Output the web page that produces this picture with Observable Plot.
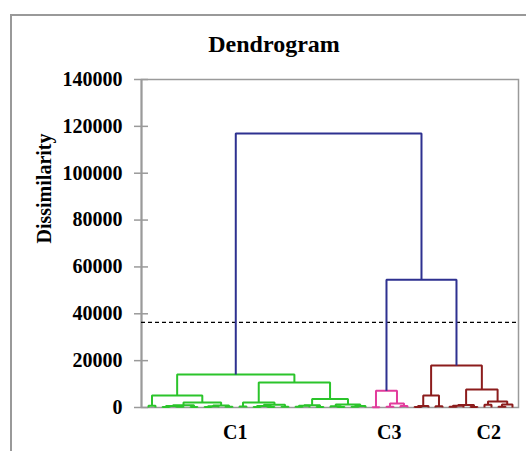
<!DOCTYPE html>
<html><head><meta charset="utf-8">
<script src="https://cdn.jsdelivr.net/npm/d3@7"></script>
<script src="https://cdn.jsdelivr.net/npm/@observablehq/plot@0.6"></script>
<style>
html,body{margin:0;padding:0;background:#fff;overflow:hidden;}
#wrap{position:relative;width:526px;height:451px;}
#border{position:absolute;left:10px;top:14px;width:1000px;height:1000px;border-left:2px solid #999;border-top:2px solid #999;}
#chart{position:absolute;left:0;top:0;}
</style></head><body><div id="wrap"><div id="border"></div><div id="chart"></div></div>
<script>
// ---- data ----
const title = "Dendrogram";
const yLabel = "Dissimilarity";
const nLeaves = 53;
const yTicks = [0, 20000, 40000, 60000, 80000, 100000, 120000, 140000];
const truncation = 36300;
const clusterNames = ["C1", "C3", "C2"];
const clusterLabelPos = [12.4, 34.4, 48.6]; // leaf-order position of the class labels

// merges: [id, left child, right child, dissimilarity]; numbers are leaves (in leaf order)
const c1Merges = [
  ["g1", 0, 1, 800],
  ["g2a", 2, 3, 200], ["g2b", 4, 5, 300], ["g2c", "g2a", "g2b", 600], ["g2d", 6, 7, 250], ["g2", "g2c", "g2d", 1000],
  ["g3a", 8, 9, 200], ["g3b", "g3a", 10, 500], ["g3c", 11, 12, 300], ["g3", "g3b", "g3c", 900],
  ["b", "g2", "g3", 2100],
  ["l", "g1", "b", 5100],
  ["g4", 13, 14, 400],
  ["g5a", 15, 16, 200], ["g5b", 17, 18, 250], ["g5c", "g5a", "g5b", 600], ["g5d", 19, 20, 300], ["g5", "g5c", "g5d", 1200],
  ["r1", "g4", "g5", 2100],
  ["g6a", 21, 22, 300], ["g6b", "g6a", 23, 700], ["g6c", 24, 25, 200], ["g6", "g6b", "g6c", 1000],
  ["g7a", 27, 28, 200], ["g7b", 26, "g7a", 500], ["g7c", 29, 30, 300], ["g7d", "g7c", 31, 600], ["g7", "g7b", "g7d", 1300],
  ["r2", "g6", "g7", 3600],
  ["r", "r1", "r2", 10700],
  ["C1", "l", "r", 14100]
];
const c3Merges = [
  ["m1", 32, 33, 150], ["m2a", 34, 35, 300], ["m2b", 36, 37, 600], ["m2", "m2a", "m2b", 1700],
  ["C3", "m1", "m2", 7200]
];
const c2Merges = [
  ["q1a", 38, 39, 200], ["q1", "q1a", 40, 600], ["q2", 41, 42, 500], ["ql", "q1", "q2", 5100],
  ["q3a", 43, 44, 300], ["q3b", "q3a", 45, 700], ["q3c", 46, 47, 200], ["q3", "q3b", "q3c", 1100],
  ["q4", 48, 49, 1200], ["q5a", 50, 51, 300], ["q5", "q5a", 52, 1300], ["q45", "q4", "q5", 2600],
  ["qr", "q3", "q45", 7700],
  ["C2", "ql", "qr", 17900]
];
const topMerges = [
  ["C23", "C3", "C2", 54500],
  ["root", "C1", "C23", 117000]
];
const colorC1 = "#2bc42b", colorC3 = "#e23c9c", colorC2 = "#8c1c1c", colorTop = "#2e3190";

// ---- build the U-shaped links ----
const nodes = new Map();
const pts = [];
function pos(c) { return typeof c === "number" ? {x: c, h: 0} : nodes.get(c); }
for (const [merges, color] of [[c1Merges, colorC1], [c3Merges, colorC3], [c2Merges, colorC2], [topMerges, colorTop]]) {
  for (const [id, l, r, h] of merges) {
    const a = pos(l), b = pos(r);
    nodes.set(id, {x: (a.x + b.x) / 2, h});
    pts.push({id, color, x: a.x, y: a.h}, {id, color, x: a.x, y: h}, {id, color, x: b.x, y: h}, {id, color, x: b.x, y: b.h});
  }
}
const xDomain = [-1, nLeaves - 0.14];
const labelByPos = new Map(clusterLabelPos.map((p, i) => [p, clusterNames[i]]));

const chart = Plot.plot({
  width: 526, height: 451,
  marginLeft: 141, marginRight: 8, marginTop: 79, marginBottom: 44,
  style: {fontFamily: "'Liberation Serif', 'Times New Roman', serif", fontSize: "20px", fontWeight: "bold", color: "black", background: "transparent"},
  x: {domain: xDomain},
  y: {domain: [0, 140000]},
  color: {type: "identity"},
  marks: [
    Plot.frame({stroke: "#9a9a9a", strokeWidth: 1.5}),
    Plot.ruleX([xDomain[0]], {stroke: "#9a9a9a", strokeWidth: 2}),
    Plot.axisY({ticks: yTicks, tickFormat: d => String(d), tickSize: 14, dx: 7, tickPadding: 12, stroke: "#9a9a9a", strokeWidth: 1.5, fill: "black", label: null}),
    Plot.axisX({ticks: clusterLabelPos, tickFormat: d => labelByPos.get(d), tickSize: 0, tickPadding: 17, fill: "black", label: null}),
    Plot.ruleY([truncation], {stroke: "black", strokeWidth: 1.3, strokeDasharray: "4,3"}),
    Plot.line(pts, {x: "x", y: "y", z: "id", stroke: "color", strokeWidth: 2, strokeLinejoin: "miter", strokeLinecap: "butt"}),
    Plot.text([title], {frameAnchor: "top", lineAnchor: "middle", dy: -35, dx: -56, fontSize: 24, fontWeight: "bold"}),
    Plot.text([yLabel], {frameAnchor: "left", rotate: -90, dx: -97, fontSize: 20, fontWeight: "bold"})
  ]
});
document.getElementById("chart").appendChild(chart);
</script></body></html>
